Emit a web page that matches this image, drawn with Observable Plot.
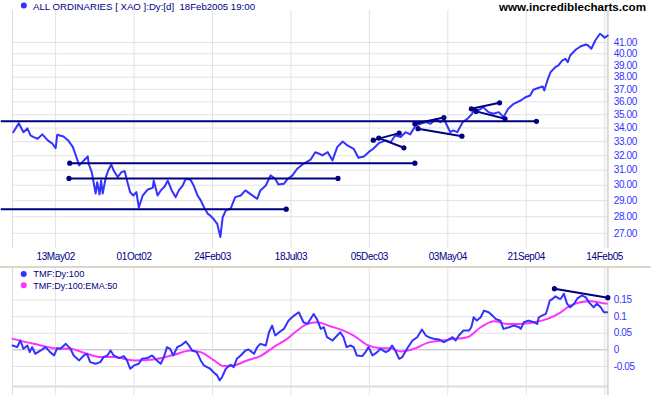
<!DOCTYPE html>
<html><head><meta charset="utf-8">
<script src="https://cdn.jsdelivr.net/npm/d3@7"></script>
<script src="https://cdn.jsdelivr.net/npm/@observablehq/plot@0.6"></script>
<style>
html,body{margin:0;padding:0;background:#fff;}
#wrap{position:relative;width:651px;height:395px;overflow:hidden;background:#fff;}
#main,#lower{position:absolute;left:0;}
#main{top:0;}
#lower{top:266px;}
#sep{position:absolute;left:0;top:266px;width:651px;height:2px;background:#dcd8c8;}
svg text{font-family:Arial,"Liberation Sans",sans-serif;}
g[aria-label="y-axis tick label"] text, g[aria-label="x-axis tick label"] text{letter-spacing:-0.4px;}
</style></head>
<body><div id="wrap"><div id="main"></div><div id="lower"></div><div id="sep"></div></div>
<script>
// x positions are trading-day (bar) indices; bar 0 is the left edge of the chart
const tickBars = [55,155,255,355,455,555,655,755];
const tickLabels = ["13May02","01Oct02","24Feb03","18Jul03","05Dec03","03May04","21Sep04","14Feb05"];
const priceTicks = [27,28,29,30,31,32,33,34,35,36,37,38,39,40,41];
const tmfTicks = [0.15,0.1,0.05,0,-0.05];

const priceBars = [1,8,14,19,23,27,32,38,45,51,55,57,65,71,77,80,85,91,96,97,101,103,106,108,111,113,115,119,122,126,129,134,139,143,147,150,154,158,161,166,172,179,180,185,189,194,198,203,208,212,217,221,227,231,236,240,244,249,252,256,261,265,268,272,278,284,291,297,303,312,316,323,329,335,339,346,351,357,363,371,380,386,391,395,402,408,414,421,427,435,441,448,454,460,467,476,482,488,495,501,507,514,520,527,533,539,546,550,555,558,562,567,574,580,586,588,594,600,607,613,620,626,632,639,648,654,660,664,671,676,678,682,686,692,696,701,705,708,711,718,724,731,734,738,743,749,752,755,759];
const priceValues = [33.69,34.36,33.69,33.97,33.45,33.33,33.21,33.53,33.09,32.85,32.53,33.50,33.38,33.09,32.61,32.14,31.33,31.67,31.95,31.46,30.87,30.31,29.46,30.20,29.40,30.31,29.46,30.52,30.98,31.39,30.98,30.54,30.87,30.94,30.12,29.55,29.33,29.55,28.56,29.33,29.70,29.84,30.31,29.33,29.66,29.92,30.31,29.66,29.23,29.66,29.98,30.43,30.36,29.98,29.33,29.02,28.60,28.18,28.08,27.88,27.57,26.78,27.97,28.39,28.49,29.23,29.33,29.66,29.44,29.12,29.66,29.98,30.65,30.43,30.05,30.09,30.43,30.65,31.10,31.44,31.72,32.25,32.14,32.02,32.25,31.67,32.61,33.01,32.73,32.49,31.86,31.95,32.25,32.49,32.89,33.09,32.96,33.45,33.33,33.69,33.53,34.19,34.32,34.44,34.32,34.62,34.44,34.69,34.06,33.69,33.82,33.69,34.44,34.69,35.08,35.46,35.33,35.59,35.20,35.08,35.20,34.82,35.46,35.85,36.11,36.37,36.51,36.97,37.13,37.24,36.91,37.73,38.42,38.84,38.99,39.42,39.56,39.27,39.85,40.35,40.64,40.82,40.73,40.44,41.18,41.79,41.63,41.42,41.63];

const tmfBars = [0,6,10,14,19,22,25,29,36,42,48,53,57,61,68,74,78,85,91,95,99,106,112,116,121,125,129,136,142,146,150,155,161,165,172,178,184,189,193,197,201,205,210,216,221,225,229,235,240,244,248,252,257,261,264,267,272,278,282,286,291,297,301,308,312,316,323,327,331,335,340,346,352,359,365,371,376,380,384,388,393,397,401,408,414,418,422,426,431,435,439,446,450,454,459,465,469,476,480,484,488,493,497,503,510,516,522,527,531,537,544,550,554,561,565,569,575,582,585,588,592,597,601,607,612,616,622,626,633,639,646,648,652,658,665,669,671,675,680,682,685,689,692,697,699,703,707,711,716,720,726,731,735,741,745,750,754,758];
const tmfValues = [0.013,0.008,0.028,0.003,0.013,-0.007,0.008,-0.012,-0.002,0.008,-0.007,-0.017,0.005,0.003,0.018,0.003,-0.017,-0.032,-0.017,-0.012,-0.037,-0.042,-0.037,-0.022,-0.017,-0.002,-0.017,-0.025,-0.019,-0.032,-0.057,-0.047,-0.042,-0.027,-0.025,-0.017,-0.032,-0.042,-0.022,0.008,0.003,-0.017,0.008,0.015,0.025,0.013,-0.002,-0.007,-0.032,-0.047,-0.052,-0.057,-0.069,-0.077,-0.092,-0.083,-0.057,-0.045,-0.052,-0.027,-0.017,-0.002,0.001,-0.012,0.008,0.018,0.013,0.053,0.073,0.043,0.053,0.063,0.088,0.103,0.113,0.083,0.078,0.093,0.108,0.093,0.063,0.068,0.038,0.028,0.043,0.053,0.038,0.008,0.013,0.008,-0.017,-0.019,-0.007,0.008,-0.017,-0.007,0.003,-0.007,-0.002,0.013,-0.002,-0.027,-0.022,0.003,0.028,0.038,0.061,0.043,0.038,0.033,0.031,0.023,0.028,0.038,0.028,0.043,0.058,0.058,0.068,0.098,0.088,0.098,0.118,0.113,0.103,0.093,0.088,0.063,0.068,0.073,0.068,0.063,0.083,0.088,0.083,0.078,0.098,0.103,0.108,0.123,0.148,0.154,0.161,0.154,0.154,0.169,0.139,0.128,0.139,0.154,0.164,0.158,0.143,0.128,0.139,0.128,0.113,0.113];

const emaBars = [0,27,53,74,95,112,129,155,180,206,227,240,257,269,282,299,316,333,350,363,376,388,405,422,435,452,469,482,495,512,529,546,563,580,597,614,631,648,665,682,699,711,724,737,750,758];
const emaValues = [0.033,0.018,0.005,0.003,-0.012,-0.022,-0.022,-0.032,-0.029,-0.015,-0.002,-0.007,-0.032,-0.049,-0.047,-0.032,-0.019,0.008,0.033,0.058,0.078,0.083,0.071,0.058,0.043,0.015,0.005,0.005,-0.005,0.003,0.021,0.028,0.033,0.038,0.068,0.086,0.078,0.078,0.083,0.093,0.113,0.133,0.143,0.146,0.142,0.139];

// horizontal support/resistance lines
const hLevels = [34.5, 31.48, 30.45, 28.47];
const hStarts = [-15, 73, 72, -15];
const hEnds   = [668, 513, 415, 349];

// sloping pattern lines on price
const tStartBar = [460, 467, 513, 517, 585, 591];
const tStartVal = [33.11, 33.26, 34.32, 33.95, 35.46, 35.26];
const tEndBar   = [493, 499, 550, 573, 621, 628];
const tEndVal   = [33.62, 32.56, 34.79, 33.40, 35.93, 34.69];

// trend line on TMF
const tmfLineBars = [691, 759];
const tmfLineVals = [0.184, 0.157];

const price = priceBars.map((b,i)=>({b, p: priceValues[i]}));
const tmf = tmfBars.map((b,i)=>({b, v: tmfValues[i]}));
const ema = emaBars.map((b,i)=>({b, v: emaValues[i]}));
const hl = hLevels.map((p,i)=>({s:hStarts[i], e:hEnds[i], p}));
const tl = tStartBar.map((b,i)=>({b1:b, p1:tStartVal[i], b2:tEndBar[i], p2:tEndVal[i]}));
const dots = [];
hl.forEach(d=>{ if (d.s >= 0) dots.push({b:d.s, p:d.p}); dots.push({b:d.e, p:d.p}); });
tl.forEach(d=>{ dots.push({b:d.b1, p:d.p1}); dots.push({b:d.b2, p:d.p2}); });

const NAVY = "#000080", BLUE = "#3333ff", MAG = "#ff33ff", GRID = "#e2e2e2";
const fmtX = d => tickLabels[tickBars.indexOf(d)];

const main = Plot.plot({
  width: 651, height: 266,
  marginTop: 10, marginBottom: 18, marginLeft: 12, marginRight: 43.7,
  style: {background: "white", fontFamily: "Arial, 'Liberation Sans', sans-serif", fontSize: "10px", overflow: "visible"},
  x: {domain: [0, 759], label: null},
  y: {type: "log", domain: [26.12, 43.97], label: null},
  marks: [
    Plot.ruleY(priceTicks, {stroke: GRID, strokeWidth: 1}),
    Plot.ruleX(tickBars, {stroke: GRID, strokeWidth: 1}),
    Plot.ruleX([0], {stroke: "#dcdcdc", strokeWidth: 1}),
    Plot.ruleX([759], {stroke: "#d8d8d8", strokeWidth: 2}),
    Plot.line(price, {x: "b", y: "p", stroke: BLUE, strokeWidth: 2}),
    Plot.link(hl, {x1: "s", x2: "e", y1: "p", y2: "p", stroke: NAVY, strokeWidth: 2}),
    Plot.link(tl, {x1: "b1", y1: "p1", x2: "b2", y2: "p2", stroke: NAVY, strokeWidth: 2}),
    Plot.dot(dots, {x: "b", y: "p", r: 2.6, fill: NAVY, stroke: "none"}),
    Plot.axisY({anchor: "right", ticks: priceTicks, tickSize: 0, tickPadding: 6, tickFormat: d => d.toFixed(2), fill: BLUE, fontSize: 10, label: null}),
    Plot.axisX({ticks: tickBars, tickSize: 0, tickPadding: 4, tickFormat: fmtX, fill: NAVY, fontSize: 10, label: null})
  ]
});
document.getElementById("main").appendChild(main);

const tmfLine = tmfLineBars.map((b,i)=>({b, v: tmfLineVals[i]}));
const lower = Plot.plot({
  width: 651, height: 129,
  marginTop: 2, marginBottom: 9, marginLeft: 12, marginRight: 43.7,
  style: {background: "white", fontFamily: "Arial, 'Liberation Sans', sans-serif", fontSize: "10px", overflow: "visible"},
  x: {domain: [0, 759], axis: null, label: null},
  y: {domain: [-0.1105, 0.2449], label: null},
  marks: [
    Plot.ruleY([0.15, 0.1, 0.05, -0.05], {stroke: GRID, strokeWidth: 1}),
    Plot.ruleY([-0.1105], {stroke: "#dcdcdc", strokeWidth: 2}),
    Plot.ruleY([0], {stroke: "#b8b8b8", strokeWidth: 1}),
    Plot.ruleX(tickBars, {y1: -0.1377, y2: 0.2449, stroke: GRID, strokeWidth: 1}),
    Plot.ruleX([0], {y1: -0.1377, y2: 0.2449, stroke: "#dcdcdc", strokeWidth: 1}),
    Plot.ruleX([759], {y1: -0.1377, y2: 0.2449, stroke: "#d8d8d8", strokeWidth: 2}),
    Plot.line(ema, {x: "b", y: "v", stroke: MAG, strokeWidth: 2, curve: "monotone-x"}),
    Plot.line(tmf, {x: "b", y: "v", stroke: BLUE, strokeWidth: 2}),
    Plot.line(tmfLine, {x: "b", y: "v", stroke: NAVY, strokeWidth: 2}),
    Plot.dot(tmfLine, {x: "b", y: "v", r: 2.6, fill: NAVY, stroke: "none"}),
    Plot.axisY({anchor: "right", ticks: tmfTicks, tickSize: 0, tickPadding: 6, tickFormat: d => String(d), fill: BLUE, fontSize: 10, label: null})
  ]
});
document.getElementById("lower").appendChild(lower);

// title, site name and legends
const ms = d3.select(main);
ms.append("circle").attr("cx", 23.8).attr("cy", 5.5).attr("r", 3).attr("fill", BLUE);
ms.append("text").attr("x", 33).attr("y", 9.6).attr("text-anchor", "start").attr("font-size", 9).attr("fill", NAVY)
  .attr("textLength", 222).attr("lengthAdjust", "spacingAndGlyphs").style("white-space", "pre")
  .text("ALL ORDINARIES [ XAO ]:Dy:[d]  18Feb2005 19:00");
ms.append("text").attr("x", 499).attr("y", 10.6).attr("text-anchor", "start").attr("font-size", 10).attr("font-weight", "bold").attr("fill", "#000")
  .attr("textLength", 147).attr("lengthAdjust", "spacingAndGlyphs")
  .text("www.incrediblecharts.com");

const ls = d3.select(lower);
ls.append("circle").attr("cx", 23.7).attr("cy", 8).attr("r", 3).attr("fill", BLUE);
ls.append("text").attr("x", 33.3).attr("y", 11.3).attr("text-anchor", "start").attr("font-size", 9).attr("fill", NAVY)
  .attr("textLength", 51).attr("lengthAdjust", "spacingAndGlyphs").text("TMF:Dy:100");
ls.append("circle").attr("cx", 23.7).attr("cy", 19.3).attr("r", 3).attr("fill", MAG);
ls.append("text").attr("x", 33.3).attr("y", 22.5).attr("text-anchor", "start").attr("font-size", 9).attr("fill", NAVY)
  .attr("textLength", 84).attr("lengthAdjust", "spacingAndGlyphs").text("TMF:Dy:100:EMA:50");
</script>
</body></html>
